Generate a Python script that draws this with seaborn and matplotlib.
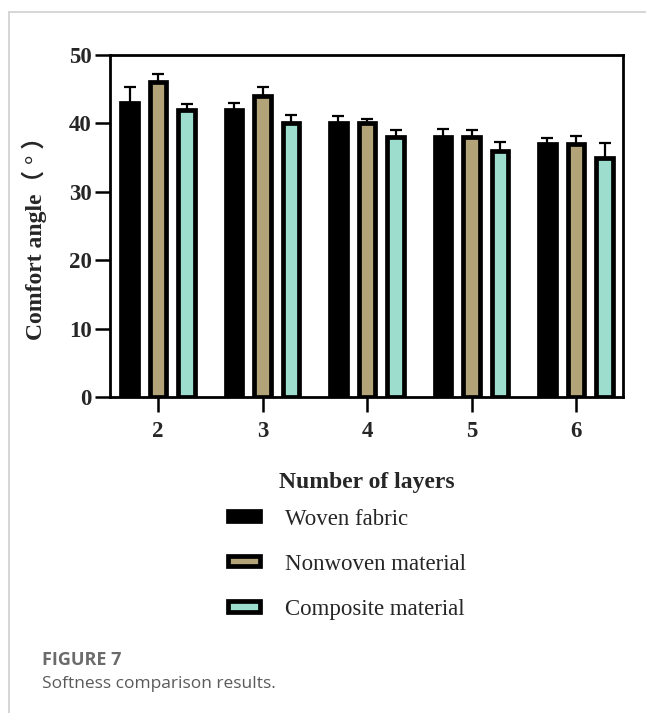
import numpy as np
import pandas as pd
import matplotlib
matplotlib.use("Agg")
import matplotlib.pyplot as plt
import seaborn as sns
from matplotlib.lines import Line2D

# ---- data ----
layers = ["2", "3", "4", "5", "6"]
materials = ["Woven fabric", "Nonwoven material", "Composite material"]
woven = [43, 42, 40, 38, 37]
nonwoven = [46, 44, 40, 38, 37]
composite = [42, 40, 38, 36, 35]
woven_err = [2.3, 1.0, 1.1, 1.2, 0.9]
nonwoven_err = [1.2, 1.3, 0.7, 1.1, 1.1]
composite_err = [0.9, 1.2, 1.1, 1.3, 2.1]
colors = ["#000000", "#BCA86E", "#92E8D4"]
yticks = [0, 10, 20, 30, 40, 50]

df = pd.DataFrame({
    "layers": layers * 3,
    "material": sum([[m] * len(layers) for m in materials], []),
    "value": woven + nonwoven + composite,
})
errs = [woven_err, nonwoven_err, composite_err]

sns.set_style("white")
plt.rcParams["font.family"] = ["Liberation Serif", "DejaVu Serif"]

W, H = 646, 713
fig = plt.figure(figsize=(W / 100, H / 100), dpi=100)
ax = fig.add_axes([110 / W, 1 - 397 / H, 513 / W, 342 / H])

sns.barplot(data=df, x="layers", y="value", hue="material", order=layers,
            hue_order=materials, palette=colors, width=0.82, gap=0.43,
            errorbar=None, edgecolor="black", linewidth=3.4, ax=ax,
            legend=True, zorder=3)

for cont, e in zip(ax.containers, errs):
    xs = [b.get_x() + b.get_width() / 2 for b in cont]
    ys = [b.get_height() for b in cont]
    ax.errorbar(xs, ys, yerr=[np.zeros(len(e)), e], fmt="none", ecolor="black",
                elinewidth=1.6, capsize=4, capthick=1.6, zorder=2)

ax.set_xlim(-0.46, 4.45)
ax.set_ylim(0, 50)
ax.set_yticks(yticks)
ax.set_yticklabels([str(t) for t in yticks])
for s in ax.spines.values():
    s.set_visible(True)
    s.set_linewidth(2.0)
    s.set_color("black")
ax.tick_params(axis="both", which="major", direction="out", length=11, width=1.8,
               color="black", labelsize=16.5, pad=2, bottom=True, left=True)
ax.tick_params(axis="x", pad=6)
for lab in ax.get_xticklabels() + ax.get_yticklabels():
    lab.set_fontweight("bold")

ax.set_ylabel("Comfort angle（ ° ）", fontsize=17, fontweight="bold",
              family=["Liberation Serif", "Noto Sans CJK SC"])
ax.yaxis.set_label_coords(-0.123, 0.48)
ax.set_xlabel("Number of layers", fontsize=17, fontweight="bold")
ax.xaxis.set_label_coords(0.501, -0.22)

handles, labels = ax.get_legend_handles_labels()
ax.get_legend().remove()
leg = fig.legend(handles, labels, loc="upper left",
                 bbox_to_anchor=(207 / W, 1 - 488 / H), bbox_transform=fig.transFigure,
                 frameon=False, fontsize=16.5, handlelength=1.4, handleheight=0.3,
                 handletextpad=1.1, labelspacing=1.05)

# figure caption and page border
fig.add_artist(Line2D([9 / W, 9 / W], [0, 1 - 12 / H], transform=fig.transFigure,
                      color="#cfcfcf", linewidth=1.2))
fig.add_artist(Line2D([9 / W, 1], [1 - 12 / H, 1 - 12 / H], transform=fig.transFigure,
                      color="#cfcfcf", linewidth=1.2))
fig.text(42 / W, 1 - 660 / H, "FIGURE 7", family="Open Sans", fontweight="bold",
         fontsize=13, color="#6b6b6b", va="center", ha="left")
fig.text(42 / W, 1 - 684 / H, "Softness comparison results.", family="Open Sans",
         fontsize=12.5, color="#5a5a5a", va="center", ha="left")

fig.savefig("out.png", dpi=100)
